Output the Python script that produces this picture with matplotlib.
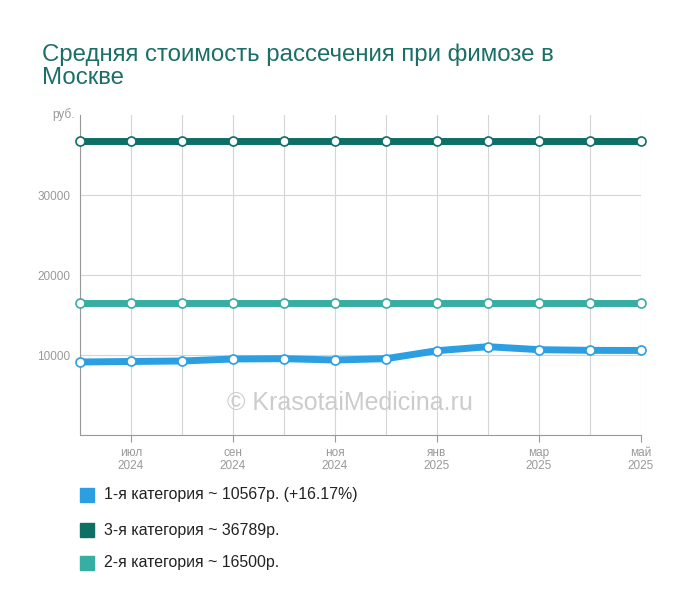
import matplotlib
matplotlib.use("Agg")
import matplotlib.pyplot as plt
import numpy as np

months = ["июн\n2024","июл\n2024","авг\n2024","сен\n2024","окт\n2024","ноя\n2024","дек\n2024",
          "янв\n2025","фев\n2025","мар\n2025","апр\n2025","май\n2025"]
cat1 = [9125, 9190, 9250, 9500, 9540, 9375, 9540, 10540, 11040, 10665, 10580, 10567]
cat3 = [36789]*12
cat2 = [16500]*12
series = [("1-я категория ~ 10567р. (+16.17%)", cat1, "#2b9fe2"),
          ("3-я категория ~ 36789р.", cat3, "#0e6f66"),
          ("2-я категория ~ 16500р.", cat2, "#37aea3")]

plt.rcParams['font.family'] = ['Liberation Sans', 'DejaVu Sans']
fig = plt.figure(figsize=(7, 6.12), dpi=100)
ax = fig.add_axes([80/700, 1-435/612, 561/700, 320/612])
x = np.arange(len(months))
for name, vals, c in [series[1], series[2], series[0]]:
    ax.plot(x, vals, color=c, lw=5, solid_capstyle='round', zorder=3, clip_on=False)
    ax.plot(x, vals, 'o', ms=6.5, mfc='white', mec=c, mew=1.2, zorder=4, clip_on=False)
ax.set_xlim(0, 11)
ax.set_ylim(0, 40000)
ax.set_yticks([10000, 20000, 30000])
ax.set_yticklabels(["10000", "20000", "30000"], fontsize=8.5, color="#999999")
ax.set_xticks(x[1::2])
ax.set_xticklabels(months[1::2], fontsize=8.5, color="#999999", linespacing=1.1)
ax.set_xticks(x, minor=True)
ax.tick_params(axis='x', which='minor', length=0)
ax.tick_params(axis='x', length=5, color="#999999")
ax.tick_params(axis='y', length=0, pad=7)
ax.grid(True, which='both', axis='x', color="#d5d5d5", lw=0.8)
ax.grid(True, axis='y', color="#d5d5d5", lw=0.8)
ax.set_axisbelow(True)
for s in ["top", "right"]:
    ax.spines[s].set_visible(False)
for s in ["left", "bottom"]:
    ax.spines[s].set_color("#999999")
ax.text(-0.01, 40000, "руб.", ha='right', va='center', fontsize=8.5, color="#999999", transform=ax.get_yaxis_transform())
ax.text(5.3, 4000, "© KrasotaiMedicina.ru", ha='center', va='center', fontsize=18, color="#cccccc", zorder=2)

fig.text(42/700, 1-66/612, "Средняя стоимость рассечения при фимозе в\nМоскве", fontsize=17.3,
         color="#1b6f68", ha='left', va='center', linespacing=1.05)
for i, (name, vals, c) in enumerate(series):
    yy = [495, 530, 563][i]
    fig.patches.append(plt.Rectangle((80/700, 1-(yy+7)/612), 14/700, 14/612, transform=fig.transFigure,
                                     color=c, figure=fig))
    fig.text(104/700, 1-yy/612, name, fontsize=11.4, color="#222222", va='center')
fig.savefig("out.png", dpi=100)
